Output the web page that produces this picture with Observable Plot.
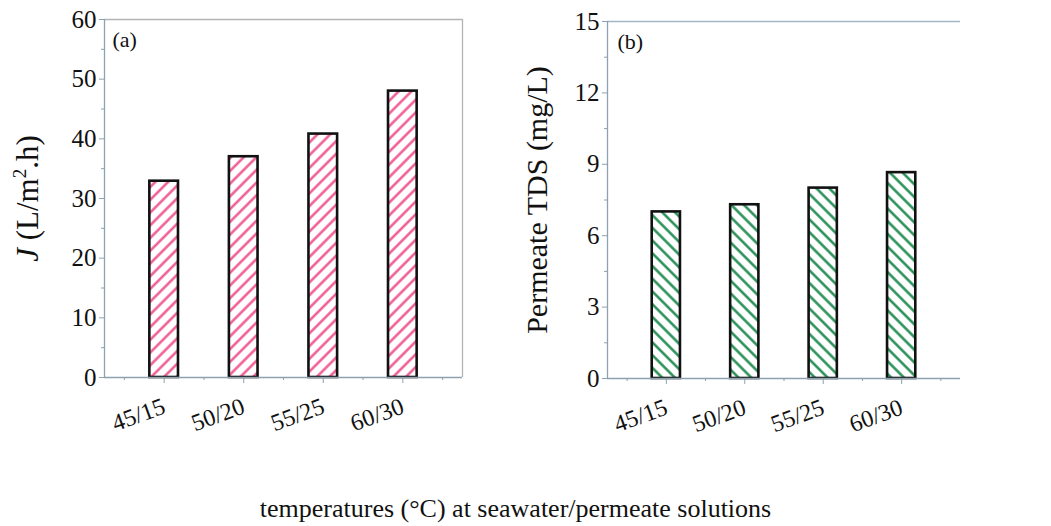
<!DOCTYPE html>
<html>
<head>
<meta charset="utf-8">
<script src="https://cdn.jsdelivr.net/npm/d3@7"></script>
<script src="https://cdn.jsdelivr.net/npm/@observablehq/plot@0.6"></script>
<style>
  html, body { margin: 0; padding: 0; background: #fff; }
  #wrap { width: 1051px; height: 526px; position: relative; font-family: "Liberation Serif", "DejaVu Serif", serif; }
  #row { display: flex; width: 1051px; height: 440px; }
  #row svg { display: block; }
  #row svg text { font-family: "Liberation Serif", serif; }
  #caption { margin-top: 56px; width: 1051px; padding-right: 20px; box-sizing: border-box; text-align: center;
             font-size: 26px; line-height: 26px; color: #111; }
</style>
</head>
<body>
<div id="wrap">
  <div id="row"></div>
  <div id="caption">temperatures (°C) at seawater/permeate solutions</div>
</div>
<script>
const categories = ["45/15", "50/20", "55/25", "60/30"];
const positions = [1, 2, 3, 4];
const fluxValues = [32.9, 37.0, 40.8, 48.0];
const tdsValues = [7.0, 7.3, 8.0, 8.65];
const fluxTicks = [0, 10, 20, 30, 40, 50, 60];
const fluxMinorTicks = [5, 15, 25, 35, 45, 55];
const tdsTicks = [0, 3, 6, 9, 12, 15];
const tdsMinorTicks = [1.5, 4.5, 7.5, 10.5, 13.5];
const xMinorTicks = [0.5, 1.5, 2.5, 3.5, 4.5];
const fluxLabel = "J (L/m2.h)";
const tdsLabel = "Permeate TDS (mg/L)";

const axisColor = "#8da1b1";
const halfBar = 0.18;
const noLabel = () => "";
const serif = "'Liberation Serif', serif";

function panel(o) {
  const data = categories.map((c, i) => ({cat: c, pos: positions[i], v: o.values[i]}));
  const svg = Plot.plot({
    width: o.width,
    height: 440,
    marginLeft: o.marginLeft,
    marginRight: o.marginRight,
    marginTop: o.marginTop,
    marginBottom: o.marginBottom,
    style: {fontFamily: serif, background: "#fff", color: "#111", overflow: "visible"},
    x: {domain: [0.25, 4.75], axis: null},
    y: {domain: o.yDomain, axis: null},
    marks: [
      Plot.rectY(data, {x1: d => d.pos - halfBar, x2: d => d.pos + halfBar, y1: 0, y2: "v",
        fill: `url(#${o.hatchId})`, stroke: "#111", strokeWidth: 2.6}),
      Plot.ruleY([o.yDomain[1]], {stroke: o.topColor, strokeWidth: 1.3}),
      ...(o.rightColor ? [Plot.ruleX([4.75], {stroke: o.rightColor, strokeWidth: 1.3})] : []),
      Plot.ruleX([0.25], {stroke: axisColor, strokeWidth: 1.3}),
      Plot.ruleY([0], {stroke: axisColor, strokeWidth: 1.3}),
      Plot.axisY({ticks: o.yTicks, tickSize: 5, tickPadding: 3, fontSize: 25, fontFamily: serif, stroke: axisColor, fill: "#111", label: null}),
      Plot.axisY({ticks: o.yMinor, tickSize: 3, tickFormat: noLabel, stroke: axisColor, label: null}),
      Plot.axisX({ticks: positions, tickSize: 6, tickPadding: 22, tickRotate: -20, fontSize: 24, fontFamily: serif,
        tickFormat: d => categories[positions.indexOf(d)], stroke: axisColor, fill: "#111", label: null}),
      Plot.axisX({ticks: xMinorTicks, tickSize: 3, tickFormat: noLabel, stroke: axisColor, label: null}),
      Plot.text([o.tag], {text: d => d, frameAnchor: "top-left", dx: o.tagDx, dy: 12, fontSize: 22, fontFamily: serif, textAnchor: "start", fill: "#111"}),
      Plot.text([o.yLabel], {text: d => d, frameAnchor: "left", dx: o.labelDx, rotate: -90, fontSize: o.labelSize, fontFamily: serif,
        textAnchor: "middle", lineAnchor: "middle", fill: "#111"})
    ]
  });
  const s = 9;
  d3.select(svg).insert("defs", ":first-child").html(
    `<pattern id="${o.hatchId}" width="${s}" height="${s}" patternUnits="userSpaceOnUse" patternTransform="rotate(${o.angle})">
       <rect width="${s}" height="${s}" fill="#fff"/>
       <rect x="${s/2 - 1.2}" y="0" width="2.4" height="${s}" fill="${o.hatchColor}"/>
     </pattern>`);
  return svg;
}

const left = panel({
  values: fluxValues, yDomain: [0, 60], yTicks: fluxTicks, yMinor: fluxMinorTicks,
  yLabel: fluxLabel, labelSize: 31, tag: "(a)", tagDx: 8, labelDx: -76, hatchId: "hatchPink", hatchColor: "#ef5590", angle: 45,
  width: 520, marginLeft: 104, marginRight: 58, marginTop: 19, marginBottom: 63,
  topColor: "#b4b4b4", rightColor: "#b4b4b4"
});
const right = panel({
  values: tdsValues, yDomain: [0, 15], yTicks: tdsTicks, yMinor: tdsMinorTicks,
  yLabel: tdsLabel, labelSize: 30, tag: "(b)", tagDx: 10, labelDx: -70, hatchId: "hatchGreen", hatchColor: "#1d8a4e", angle: -45,
  width: 531, marginLeft: 87, marginRight: 91, marginTop: 21, marginBottom: 62,
  topColor: "#9fb7c6", rightColor: null
});
document.getElementById("row").append(left, right);

// Italic J and superscript 2 in the flux label
const t = Array.from(left.querySelectorAll("text")).find(e => e.textContent === fluxLabel);
if (t) {
  const m = fluxLabel.match(/^J(.*m)2(.*)$/);
  if (m) {
    t.textContent = "";
    const ns = "http://www.w3.org/2000/svg";
    const add = (str, attrs) => { const e = document.createElementNS(ns, "tspan"); e.textContent = str; for (const k in attrs) e.setAttribute(k, attrs[k]); t.appendChild(e); return e; };
    add("J", {"font-style": "italic"});
    add(m[1], {});
    add("2", {"font-size": "19", dy: "-12"});
    add(m[2], {dy: "12"});
  }
}
</script>
</body>
</html>
